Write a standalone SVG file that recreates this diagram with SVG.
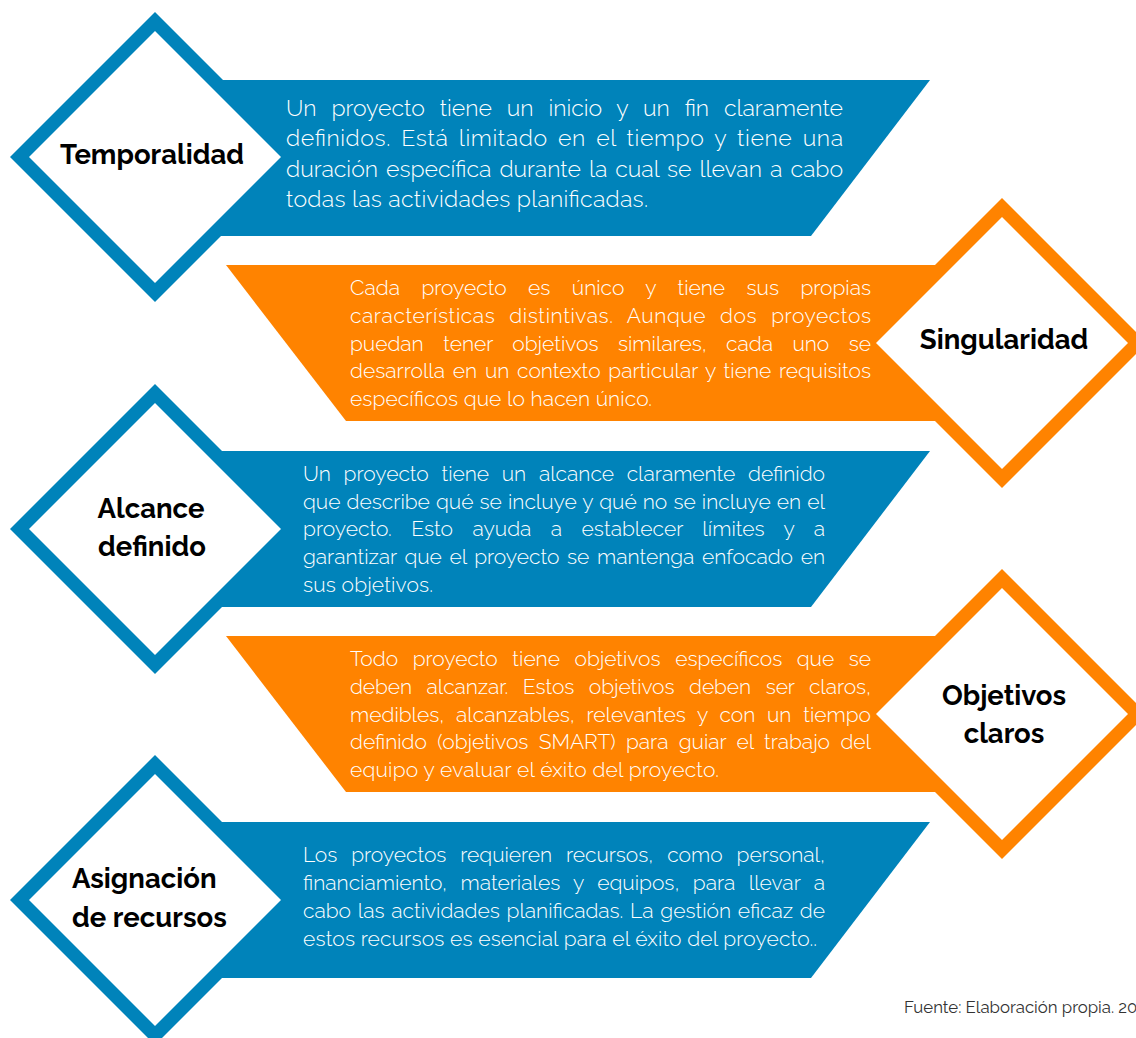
<svg xmlns="http://www.w3.org/2000/svg" width="1136" height="1038" viewBox="0 0 1136 1038">
<style>
.blue{fill:#0083BA}
.orange{fill:#FF8300}
.white{fill:#FFFFFF}
.body{font-family:Raleway,"Lato","Open Sans","Liberation Sans",sans-serif;font-weight:300;fill:#FFFFFF}
.b1{font-size:23px}
.b2{font-size:21px}
.title{font-family:Raleway,"Lato","Open Sans","Liberation Sans",sans-serif;font-weight:700;font-size:27.5px;fill:#000000}
.src{font-family:Raleway,"Lato","Open Sans","Liberation Sans",sans-serif;font-size:16.8px;fill:#333333}
</style>
<rect width="1136" height="1038" fill="#FFFFFF"/>
<g id="connectors">
<polygon class="blue" points="155,80 930,80 811,236 155,236"/>
<polygon class="orange" points="226,265 1002,265 1002,421 346,421"/>
<polygon class="blue" points="155,451 930,451 811,607 155,607"/>
<polygon class="orange" points="226,636 1002,636 1002,792 346,792"/>
<polygon class="blue" points="155,822 930,822 811,978 155,978"/>
</g>
<g id="temporalidad">
<polygon class="blue" points="155,12 300,157 155,302 10,157"/>
<polygon class="white" points="155,31 281,157 155,283 29,157"/>
<text class="title" x="152" y="164" text-anchor="middle">Temporalidad</text>
<text class="body b1" lengthAdjust="spacing">
<tspan x="286" y="116" word-spacing="9" textLength="557">Un proyecto tiene un inicio y un fin claramente</tspan>
<tspan x="286" y="146" word-spacing="3.9" textLength="557">definidos. Está limitado en el tiempo y tiene una</tspan>
<tspan x="286" y="177" word-spacing="2.1" textLength="557">duración específica durante la cual se llevan a cabo</tspan>
<tspan x="286" y="207" textLength="362">todas las actividades planificadas.</tspan>
</text>
</g>
<g id="singularidad">
<polygon class="orange" points="1002,198 1147,343 1002,488 857,343"/>
<polygon class="white" points="1002,217 1128,343 1002,469 876,343"/>
<text class="title" x="1004" y="349" text-anchor="middle">Singularidad</text>
<text class="body b2" lengthAdjust="spacing">
<tspan x="350" y="295" word-spacing="16" textLength="521">Cada proyecto es único y tiene sus propias</tspan>
<tspan x="350" y="323" word-spacing="8" textLength="521">características distintivas. Aunque dos proyectos</tspan>
<tspan x="350" y="351" word-spacing="14" textLength="521">puedan tener objetivos similares, cada uno se</tspan>
<tspan x="350" y="378" word-spacing="2.3" textLength="521">desarrolla en un contexto particular y tiene requisitos</tspan>
<tspan x="350" y="406" textLength="302">específicos que lo hacen único.</tspan>
</text>
</g>
<g id="alcance">
<polygon class="blue" points="155,384 300,529 155,674 10,529"/>
<polygon class="white" points="155,403 281,529 155,655 29,529"/>
<text class="title" x="151" y="518" text-anchor="middle">Alcance</text>
<text class="title" x="152" y="556" text-anchor="middle">definido</text>
<text class="body b2" lengthAdjust="spacing">
<tspan x="303" y="481" word-spacing="7.3" textLength="522">Un proyecto tiene un alcance claramente definido</tspan>
<tspan x="303" y="509" word-spacing="0.7" textLength="522">que describe qué se incluye y qué no se incluye en el</tspan>
<tspan x="303" y="536" word-spacing="14" textLength="522">proyecto. Esto ayuda a establecer límites y a</tspan>
<tspan x="303" y="564" word-spacing="2.3" textLength="522">garantizar que el proyecto se mantenga enfocado en</tspan>
<tspan x="303" y="592" textLength="130">sus objetivos.</tspan>
</text>
</g>
<g id="objetivos">
<polygon class="orange" points="1002,569 1147,714 1002,859 857,714"/>
<polygon class="white" points="1002,588 1128,714 1002,840 876,714"/>
<text class="title" x="1004" y="705" text-anchor="middle">Objetivos</text>
<text class="title" x="1004" y="743" text-anchor="middle">claros</text>
<text class="body b2" lengthAdjust="spacing">
<tspan x="350" y="666" word-spacing="9.2" textLength="521">Todo proyecto tiene objetivos específicos que se</tspan>
<tspan x="350" y="694" word-spacing="9.2" textLength="521">deben alcanzar. Estos objetivos deben ser claros,</tspan>
<tspan x="350" y="722" word-spacing="6.3" textLength="521">medibles, alcanzables, relevantes y con un tiempo</tspan>
<tspan x="350" y="749" word-spacing="5" textLength="521">definido (objetivos SMART) para guiar el trabajo del</tspan>
<tspan x="350" y="777" textLength="369">equipo y evaluar el éxito del proyecto.</tspan>
</text>
</g>
<g id="asignacion">
<polygon class="blue" points="155,755 300,900 155,1045 10,900"/>
<polygon class="white" points="155,774 281,900 155,1026 29,900"/>
<text class="title" x="72" y="888">Asignación</text>
<text class="title" x="72" y="927">de recursos</text>
<text class="body b2" lengthAdjust="spacing">
<tspan x="303" y="862" word-spacing="8.6" textLength="522">Los proyectos requieren recursos, como personal,</tspan>
<tspan x="303" y="890" word-spacing="8" textLength="522">financiamiento, materiales y equipos, para llevar a</tspan>
<tspan x="303" y="918" word-spacing="1.4" textLength="522">cabo las actividades planificadas. La gestión eficaz de</tspan>
<tspan x="303" y="946" textLength="514">estos recursos es esencial para el éxito del proyecto..</tspan>
</text>
</g>
<text class="src" x="904" y="1013">Fuente: Elaboración propia. 20</text>
</svg>
